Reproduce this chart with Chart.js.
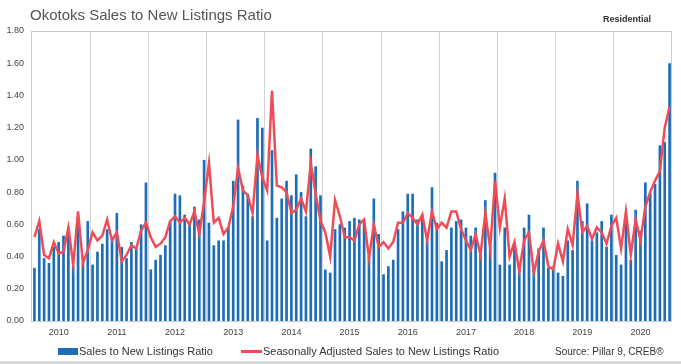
<!DOCTYPE html>
<html><head><meta charset="utf-8">
<script src="https://cdn.jsdelivr.net/npm/chart.js@4.4.1/dist/chart.umd.min.js"></script>
<style>
html,body{margin:0;padding:0;background:#fff;}
#wrap{position:relative;width:681px;height:364px;overflow:hidden;font-family:"Liberation Sans",Arial,sans-serif;}
#c{position:absolute;left:0;top:0;}
.t{position:absolute;white-space:nowrap;line-height:1;}
</style></head><body>
<div id="wrap">
<canvas id="c" width="681" height="364"></canvas>
<div class="t" style="left:30px;top:7px;font-size:15px;color:#555;">Okotoks Sales to New Listings Ratio</div>
<div class="t" style="left:603px;top:15px;font-size:9px;font-weight:bold;color:#333;">Residential</div>
<div style="position:absolute;left:58px;top:348px;width:20px;height:7px;background:#1c6db5;"></div>
<div class="t" style="left:79px;top:346px;font-size:11px;color:#333;">Sales to New Listings Ratio</div>
<div style="position:absolute;left:241px;top:350px;width:21px;height:3px;background:#ef4c58;"></div>
<div class="t" style="left:263px;top:346px;font-size:11px;color:#333;">Seasonally Adjusted Sales to New Listings Ratio</div>
<div class="t" style="left:555px;top:347px;font-size:10px;color:#333;">Source: Pillar 9, CREB®</div>
<div style="position:absolute;left:0;top:361px;width:681px;height:3px;background:#d6d6d6;"></div>
</div>
<script>
const years = ['2010','2011','2012','2013','2014','2015','2016','2017','2018','2019','2020'];
const months = ['01','02','03','04','05','06','07','08','09','10','11','12'];
const categories = [];
years.forEach(y => months.forEach(m => categories.push(y + '-' + m)));

const salesRatio = [
  0.33,0.57,0.39,0.36,0.46,0.49,0.53,0.58,0.34,0.60,0.36,0.62,
  0.35,0.43,0.48,0.57,0.51,0.67,0.46,0.39,0.49,0.45,0.60,0.86,
  0.32,0.38,0.41,0.47,0.62,0.79,0.78,0.66,0.60,0.71,0.63,1.00,
  0.61,0.47,0.50,0.50,0.58,0.87,1.25,0.84,0.79,0.65,1.26,1.20,
  0.50,1.06,0.64,0.76,0.87,0.78,0.91,0.80,0.65,1.07,0.96,0.78,
  0.32,0.30,0.57,0.60,0.58,0.62,0.64,0.63,0.61,0.40,0.76,0.54,
  0.29,0.34,0.38,0.57,0.68,0.79,0.79,0.63,0.66,0.50,0.83,0.61,
  0.37,0.44,0.58,0.62,0.63,0.58,0.53,0.58,0.41,0.75,0.46,0.92,
  0.35,0.58,0.35,0.46,0.33,0.58,0.66,0.34,0.45,0.58,0.33,0.32,
  0.30,0.28,0.50,0.44,0.87,0.62,0.73,0.50,0.55,0.62,0.46,0.66,
  0.41,0.35,0.61,0.38,0.69,0.56,0.86,0.79,0.85,1.09,1.11,1.60
];
const seasonallyAdjusted = [
  0.52,0.62,0.41,0.39,0.49,0.42,0.43,0.58,0.35,0.68,0.36,0.44,
  0.55,0.50,0.53,0.63,0.50,0.55,0.37,0.41,0.47,0.45,0.56,0.61,
  0.52,0.46,0.48,0.52,0.62,0.65,0.61,0.64,0.60,0.68,0.54,0.74,
  0.98,0.61,0.64,0.54,0.58,0.71,0.95,0.81,0.78,0.67,1.03,0.89,
  0.81,1.43,0.84,0.83,0.80,0.67,0.69,0.76,0.68,0.98,0.79,0.62,
  0.55,0.40,0.75,0.65,0.52,0.52,0.50,0.60,0.63,0.39,0.60,0.46,
  0.49,0.45,0.49,0.61,0.61,0.67,0.64,0.60,0.66,0.50,0.68,0.57,
  0.61,0.58,0.68,0.68,0.57,0.50,0.44,0.54,0.41,0.67,0.45,0.87,
  0.58,0.76,0.40,0.49,0.31,0.50,0.55,0.30,0.43,0.50,0.34,0.32,
  0.48,0.37,0.57,0.47,0.79,0.55,0.59,0.51,0.58,0.55,0.48,0.59,
  0.64,0.45,0.68,0.41,0.63,0.50,0.71,0.80,0.87,0.93,1.20,1.33
];
const yTicks = { min: 0, max: 1.8, step: 0.2 };

const FONT = '"Liberation Sans", Arial, sans-serif';
const frame = {
  id: 'frame',
  beforeDatasetsDraw(chart) {
    const { ctx, chartArea: a } = chart;
    ctx.save();
    ctx.strokeStyle = '#cdcdcd';
    ctx.lineWidth = 1;
    ctx.strokeRect(Math.round(a.left) - 0.5, Math.round(a.top) + 0.5,
      Math.round(a.right) - Math.round(a.left), Math.round(a.bottom) - Math.round(a.top));
    ctx.restore();
  }
};

new Chart(document.getElementById('c'), {
  data: {
    labels: categories,
    datasets: [
      { type: 'line', label: 'Seasonally Adjusted Sales to New Listings Ratio', data: seasonallyAdjusted,
        borderColor: '#ef4c58', borderWidth: 2.5, pointRadius: 0, tension: 0, order: 0 },
      { type: 'bar', label: 'Sales to New Listings Ratio', data: salesRatio,
        backgroundColor: '#1c6db5', barPercentage: 0.55, categoryPercentage: 1.0, order: 1 }
    ]
  },
  options: {
    responsive: false, animation: false,
    layout: { padding: { top: 31, right: 9, bottom: 23, left: 0 } },
    plugins: { legend: { display: false }, tooltip: { enabled: false } },
    scales: {
      x: {
        offset: true,
        grid: { offset: true, drawTicks: false, lineWidth: 1,
          color: ctx => (ctx.index % 12 === 0 ? '#d3d3d3' : 'rgba(0,0,0,0)') },
        border: { display: false },
        ticks: { autoSkip: false, maxRotation: 0, minRotation: 0, padding: 6, color: '#444',
          font: { size: 9, family: FONT },
          callback: (v, i) => (i % 12 === 5 ? categories[i].slice(0, 4) : '') },
        afterFit: s => { s.height = 20; }
      },
      y: {
        min: yTicks.min, max: yTicks.max,
        grid: { display: false, drawTicks: false },
        border: { display: false },
        ticks: { stepSize: yTicks.step, padding: 8, color: '#444', font: { size: 9, family: FONT },
          callback: v => Number(v).toFixed(2) },
        afterFit: s => { s.width = 32; }
      }
    }
  },
  plugins: [frame]
});
</script>
</body></html>
